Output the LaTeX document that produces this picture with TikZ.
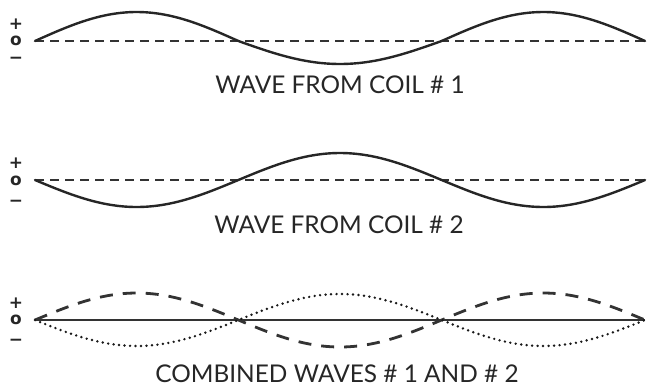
\documentclass[tikz,border=0pt]{standalone}
\usepackage{fontspec}
\setmainfont{Lato}
\newfontfamily\signfont{DejaVu Sans}
\begin{document}
\begin{tikzpicture}[x=1bp,y=-1bp,
  wave/.style={line width=2.4bp, line cap=round, line join=round, black!85},
  axisdash/.style={line width=2.4bp, black!80, dash pattern=on 9bp off 6bp},
  bigdash/.style={line width=2.8bp, black!80, dash pattern=on 13bp off 10bp},
  dotline/.style={line width=2.7bp, black!90, line cap=round, dash pattern=on 0bp off 5.5bp},
  axisline/.style={line width=2.6bp, black!80},
  caption/.style={font=\fontsize{24.5}{28}\selectfont, text=black!85, anchor=base, inner sep=0pt},
  sign/.style={font=\fontsize{17}{17}\selectfont\signfont\bfseries, text=black!85, inner sep=0pt}]
\useasboundingbox (0,0) rectangle (650,386);
% ---------- panel 1 ----------
\node[sign] (p1) at (16,29.3) {\smash{+}};
\node[sign] (z1) at (16,45.6) {\smash{o}};
\node[sign] (m1) at (16,63) {\smash{−}};
\draw[axisdash] (35,41) -- (645,41);
\draw[wave] plot[domain=35:645,samples=150]
  (\x,{41-(sin((\x-35)/406.67*360)>0 ? 29 : 23)*sin((\x-35)/406.67*360)});
\node[caption] (t1) at (340,93) {WAVE FROM COIL \# 1};
% ---------- panel 2 ----------
\node[sign] (p2) at (16,168.3) {\smash{+}};
\node[sign] (z2) at (16,185.6) {\smash{o}};
\node[sign] (m2) at (16,206) {\smash{−}};
\draw[axisdash] (35,180) -- (645,180);
\draw[wave] plot[domain=35:645,samples=150]
  (\x,{180+27*sin((\x-35)/406.67*360)});
\node[caption] (t2) at (339,233) {WAVE FROM COIL \# 2};
% ---------- panel 3 ----------
\node[sign] (p3) at (16,308.3) {\smash{+}};
\node[sign] (z3) at (16,324.6) {\smash{o}};
\node[sign] (m3) at (16,345) {\smash{−}};
\draw[axisline] (35,320) -- (645,320);
\draw[bigdash] plot[domain=35:645,samples=150]
  (\x,{320-27*sin((\x-35)/406.67*360)});
\draw[dotline] plot[domain=35:645,samples=150]
  (\x,{320+26*sin((\x-35)/406.67*360)});
\node[caption] (t3) at (337,382) {COMBINED WAVES \# 1 AND \# 2};
\end{tikzpicture}
\end{document}
